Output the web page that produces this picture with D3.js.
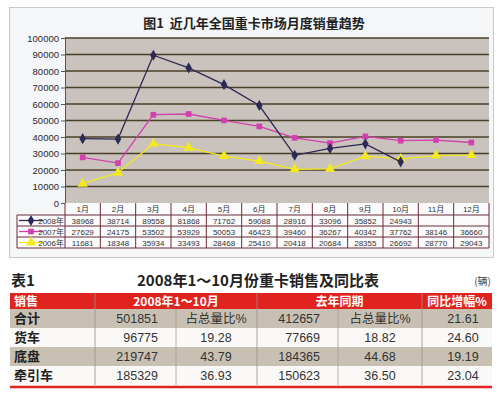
<!DOCTYPE html>
<html>
<head>
<meta charset="utf-8">
<script src="https://cdn.jsdelivr.net/npm/d3@7"></script>
<style>
  body { margin: 0; background: #fff; }
  svg text { font-family: "Liberation Sans", "Noto Sans CJK SC", sans-serif; }
</style>
</head>
<body>
<div class="chart"></div>
<script>
// chart data
var months = ["1月", "2月", "3月", "4月", "5月", "6月", "7月", "8月", "9月", "10月", "11月", "12月"];
var seriesNames = ["2008年", "2007年", "2006年"];
var sales2008 = [38968, 38714, 89558, 81868, 71762, 59088, 28916, 33096, 35852, 24943, null, null];
var sales2007 = [27629, 24175, 53502, 53929, 50053, 46423, 39460, 36267, 40342, 37762, 38146, 36660];
var sales2006 = [11681, 18348, 35934, 33493, 28468, 25410, 20418, 20684, 28355, 26692, 28770, 29043];
var yTicks = [0, 10000, 20000, 30000, 40000, 50000, 60000, 70000, 80000, 90000, 100000];

// table data
var tableHeads = ["销售", "2008年1～10月", "去年同期", "同比增幅%"];
var rowNames = ["合计", "货车", "底盘", "牵引车"];
var sold2008 = ["501851", "96775", "219747", "185329"];
var share2008 = ["占总量比%", "19.28", "43.79", "36.93"];
var soldLast = ["412657", "77669", "184365", "150623"];
var shareLast = ["占总量比%", "18.82", "44.68", "36.50"];
var growth = ["21.61", "24.60", "19.19", "23.04"];

var W = 500, H = 394;
var svg = d3.select(".chart").append("svg").attr("width", W).attr("height", H);

// panel
svg.append("rect")
  .attr("x", 9.5).attr("y", 7.5).attr("width", 484).attr("height", 250)
  .attr("fill", "#f4f6f8").attr("stroke", "#c9c9c9");

svg.append("text")
  .attr("x", 254).attr("y", 28)
  .attr("text-anchor", "middle")
  .attr("xml:space", "preserve")
  .style("white-space", "pre")
  .style("font-family", "'Noto Sans CJK SC', sans-serif")
  .style("font-weight", "bold").style("font-size", "13px").style("fill", "#222")
  .text("图1  近几年全国重卡市场月度销量趋势");

var plot = { left: 65, right: 489, top: 38, bottom: 203 };

var x = d3.scaleBand().domain(months).range([plot.left, plot.right]);
var y = d3.scaleLinear().domain([0, 100000]).range([plot.bottom, plot.top]);

svg.append("rect")
  .attr("x", plot.left).attr("y", plot.top)
  .attr("width", plot.right - plot.left).attr("height", plot.bottom - plot.top)
  .attr("fill", "#c9c2bd");

svg.append("g")
  .selectAll("line")
  .data(yTicks.slice(1))
  .enter()
  .append("line")
  .attr("x1", plot.left).attr("x2", plot.right)
  .attr("y1", function (d) { return y(d); })
  .attr("y2", function (d) { return y(d); })
  .attr("stroke", "#4a3f28").attr("stroke-width", 1.6);

var yAxis = svg.append("g")
  .attr("transform", "translate(" + plot.left + ",0)")
  .call(d3.axisLeft(y).tickValues(yTicks).tickSize(4).tickPadding(2).tickFormat(d3.format("d")));
yAxis.select(".domain").attr("stroke", "#555");
yAxis.selectAll(".tick line").attr("stroke", "#555");
yAxis.selectAll("text").style("font-size", "9.5px").style("fill", "#2a2a2a");

var series = [
  { name: seriesNames[0], values: sales2008, color: "#2c2a55", marker: d3.symbolDiamond, size: 36 },
  { name: seriesNames[1], values: sales2007, color: "#d23fae", marker: d3.symbolSquare, size: 32 },
  { name: seriesNames[2], values: sales2006, color: "#f2ea1e", marker: d3.symbolTriangle, size: 46 }
];

var line = d3.line()
  .defined(function (d) { return d != null; })
  .x(function (d, i) { return x(months[i]) + x.bandwidth() / 2; })
  .y(function (d) { return y(d); });

// draw back to front: 2006 first
series.slice().reverse().forEach(function (s) {
  svg.append("path")
    .attr("d", line(s.values))
    .attr("fill", "none")
    .attr("stroke", s.color)
    .attr("stroke-width", 1.3);
  svg.append("g")
    .selectAll("path")
    .data(s.values.map(function (v, i) { return { v: v, m: months[i] }; }).filter(function (d) { return d.v != null; }))
    .enter()
    .append("path")
    .attr("d", d3.symbol().type(s.marker).size(s.size))
    .attr("transform", function (d) {
      return "translate(" + (x(d.m) + x.bandwidth() / 2) + "," + y(d.v) + ")";
    })
    .attr("fill", s.color);
});

// data table under the plot
var tbl = { left: 17, top: 203, headH: 12, rowH: 11 };
var gridColor = "#6b2b3b";
var tableG = svg.append("g");

tableG.append("rect")
  .attr("x", plot.left).attr("y", tbl.top)
  .attr("width", plot.right - plot.left).attr("height", tbl.headH + 3 * tbl.rowH)
  .attr("fill", "#fbfbfb");
tableG.append("rect")
  .attr("x", tbl.left).attr("y", tbl.top + tbl.headH)
  .attr("width", plot.left - tbl.left).attr("height", 3 * tbl.rowH)
  .attr("fill", "#fbfbfb");

var hLines = [tbl.top + tbl.headH, tbl.top + tbl.headH + tbl.rowH, tbl.top + tbl.headH + 2 * tbl.rowH, tbl.top + tbl.headH + 3 * tbl.rowH];
hLines.forEach(function (yy) {
  tableG.append("line")
    .attr("x1", tbl.left).attr("x2", plot.right)
    .attr("y1", yy).attr("y2", yy)
    .attr("stroke", gridColor).attr("stroke-width", 1);
});
tableG.append("line")
  .attr("x1", tbl.left).attr("x2", tbl.left)
  .attr("y1", tbl.top + tbl.headH).attr("y2", tbl.top + tbl.headH + 3 * tbl.rowH)
  .attr("stroke", gridColor);
months.concat(["end"]).forEach(function (m, i) {
  var xx = i < months.length ? x(m) : plot.right;
  tableG.append("line")
    .attr("x1", xx).attr("x2", xx)
    .attr("y1", tbl.top).attr("y2", tbl.top + tbl.headH + 3 * tbl.rowH)
    .attr("stroke", gridColor);
});

tableG.selectAll(".mlabel")
  .data(months)
  .enter()
  .append("text")
  .attr("x", function (d) { return x(d) + x.bandwidth() / 2; })
  .attr("y", tbl.top + 9)
  .attr("text-anchor", "middle")
  .style("font-size", "8px").style("fill", "#333")
  .text(function (d) { return d; });

series.forEach(function (s, r) {
  var cy = tbl.top + tbl.headH + r * tbl.rowH + tbl.rowH / 2;
  tableG.append("line")
    .attr("x1", tbl.left + 2).attr("x2", tbl.left + 26)
    .attr("y1", cy).attr("y2", cy)
    .attr("stroke", s.color).attr("stroke-width", 1.3);
  tableG.append("path")
    .attr("d", d3.symbol().type(s.marker).size(s.size))
    .attr("transform", "translate(" + (tbl.left + 14) + "," + cy + ")")
    .attr("fill", s.color);
  tableG.append("text")
    .attr("x", plot.left - 1).attr("y", cy + 3)
    .attr("text-anchor", "end")
    .style("font-size", "8px").style("fill", "#333")
    .text(s.name);
  tableG.selectAll(".v" + r)
    .data(s.values)
    .enter()
    .append("text")
    .attr("x", function (d, i) { return x(months[i]) + x.bandwidth() / 2; })
    .attr("y", cy + 3)
    .attr("text-anchor", "middle")
    .style("font-size", "8px").style("fill", "#333")
    .text(function (d) { return d == null ? "" : d; });
});

// ---- table 1 ----
var t = { left: 10, right: 492, headTop: 293, headH: 16, rowH: 19 };

svg.append("text")
  .attr("x", 11).attr("y", 286)
  .style("font-family", "'Noto Sans CJK SC', sans-serif")
  .style("font-weight", "bold").style("font-size", "15px").style("fill", "#222")
  .text("表1");
svg.append("text")
  .attr("x", 258).attr("y", 286)
  .attr("text-anchor", "middle")
  .style("font-family", "'Noto Sans CJK SC', sans-serif")
  .style("font-weight", "bold").style("font-size", "15px").style("fill", "#222")
  .text("2008年1～10月份重卡销售及同比表");
svg.append("text")
  .attr("x", 491).attr("y", 285)
  .attr("text-anchor", "end")
  .style("font-family", "'Noto Sans CJK SC', sans-serif")
  .style("font-size", "10px").style("fill", "#444")
  .text("(辆)");

svg.append("rect")
  .attr("x", t.left).attr("y", t.headTop)
  .attr("width", t.right - t.left).attr("height", t.headH)
  .attr("fill", "#e0231f");

rowNames.forEach(function (n, i) {
  svg.append("rect")
    .attr("x", t.left).attr("y", t.headTop + t.headH + i * t.rowH)
    .attr("width", t.right - t.left).attr("height", t.rowH)
    .attr("fill", i % 2 === 0 ? "#c8c1b3" : "#faf9f7");
});

var tBottom = t.headTop + t.headH + rowNames.length * t.rowH;
svg.append("line")
  .attr("x1", t.left).attr("x2", t.right)
  .attr("y1", tBottom + 2).attr("y2", tBottom + 2)
  .attr("stroke", "#e0231f").attr("stroke-width", 2.5);

// vertical dividers
[95, 176, 257, 338, 422].forEach(function (xx) {
  var major = xx === 95 || xx === 257 || xx === 422;
  svg.append("line")
    .attr("x1", xx).attr("x2", xx)
    .attr("y1", major ? t.headTop : t.headTop + t.headH)
    .attr("y2", tBottom)
    .attr("stroke", major ? "#9a8f86" : "#a99f95")
    .attr("stroke-width", 0.8);
});

var headX = [14, (95 + 257) / 2, (257 + 422) / 2, (422 + 492) / 2];
tableHeads.forEach(function (h, i) {
  svg.append("text")
    .attr("x", headX[i]).attr("y", t.headTop + 12.5)
    .attr("text-anchor", i === 0 ? "start" : "middle")
    .style("font-family", "'Noto Sans CJK SC', sans-serif")
    .style("font-weight", "bold").style("font-size", "12px").style("fill", "#fff")
    .text(h);
});

rowNames.forEach(function (n, i) {
  var by = t.headTop + t.headH + i * t.rowH + 14;
  svg.append("text")
    .attr("x", 14).attr("y", by)
    .style("font-family", "'Noto Sans CJK SC', sans-serif")
    .style("font-weight", "bold").style("font-size", "13px").style("fill", "#222")
    .text(n);
  var cells = [
    { v: sold2008[i], x: 158, a: "end" },
    { v: share2008[i], x: 216, a: "middle" },
    { v: soldLast[i], x: 320, a: "end" },
    { v: shareLast[i], x: 380, a: "middle" },
    { v: growth[i], x: 463, a: "middle" }
  ];
  cells.forEach(function (c) {
    svg.append("text")
      .attr("x", c.x).attr("y", by)
      .attr("text-anchor", c.a)
      .style("font-family", "'Liberation Sans', 'Noto Sans CJK SC', sans-serif")
      .style("font-size", "12.5px").style("fill", "#333")
      .text(c.v);
  });
});
</script>
</body>
</html>
